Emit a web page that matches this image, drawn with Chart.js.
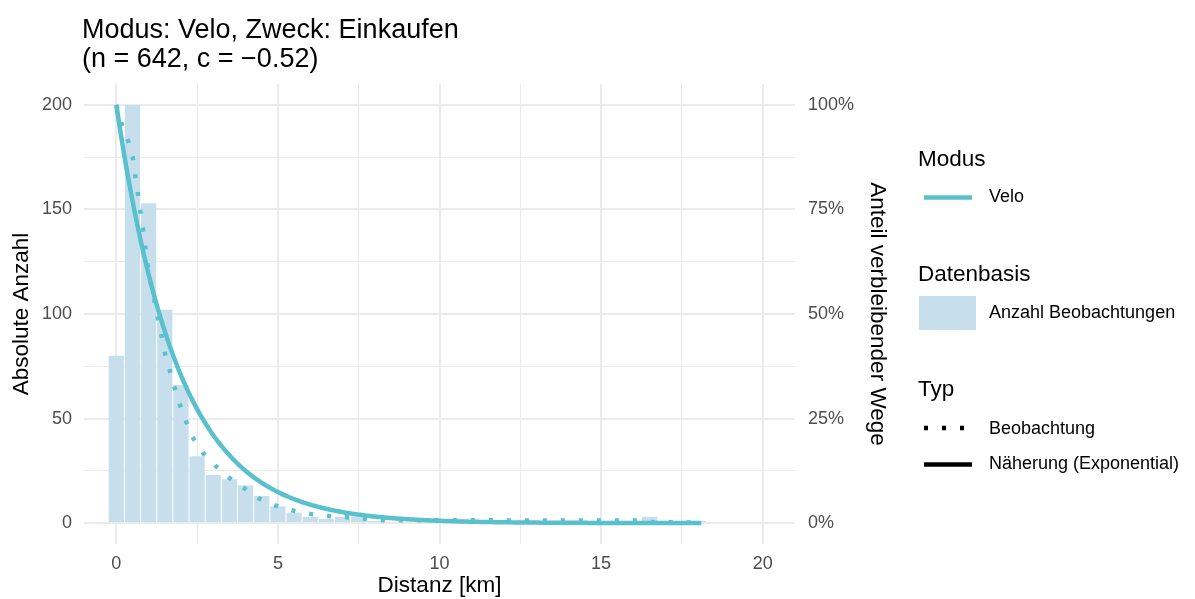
<!DOCTYPE html>
<html>
<head>
<meta charset="utf-8">
<script src="https://cdn.jsdelivr.net/npm/chart.js@4.4.1/dist/chart.umd.min.js"></script>
<style>
  html, body { margin: 0; padding: 0; background: #ffffff; }
  canvas { display: block; }
</style>
</head>
<body>
<canvas id="chart" width="1195" height="599"></canvas>
<script>
// Histogram of trip distances (bin centres in km, bin width 0.5 km)
const binCenters = [0, 0.5, 1, 1.5, 2, 2.5, 3, 3.5, 4, 4.5, 5, 5.5, 6, 6.5, 7, 7.5, 8, 8.5, 9, 9.5,
                    10, 10.5, 11, 11.5, 12, 12.5, 13, 13.5, 14, 14.5, 15, 15.5, 16, 16.5, 17, 17.5, 18];
const tripCounts = [80, 200, 153, 102, 66, 32, 23, 21, 18, 13, 8, 5, 3, 2, 3, 3, 1, 0, 0, 0,
                    0, 0, 0, 0, 0, 0, 0, 0, 0, 0, 0, 0, 0, 3, 0, 0, 1];

// Observed share of remaining trips (%) along the distance axis
const obsDistance = [0, 0.18, 0.38, 0.52, 0.59, 0.67, 0.75, 0.83, 0.9, 0.97, 1.07, 1.18, 1.29, 1.4, 1.51,
                     1.66, 1.81, 1.97, 2.17, 2.39, 2.69, 3.08, 3.5, 3.95, 4.41, 4.92, 5.46, 6.0, 6.56,
                     7.12, 7.68, 8.23, 9, 10, 12, 14, 16.4, 16.6, 18, 18.1];
const obsShare = [100, 95.1, 91.1, 87, 82.8, 78.6, 74.3, 70, 65.8, 61.6, 57.3, 53.2, 48.8, 44.7, 40.5,
                  36.3, 32.2, 28.2, 24.1, 20.2, 16.7, 13.6, 10.8, 8.4, 5.9, 4.2, 3.0, 2.2, 1.7,
                  1.4, 1.0, 0.7, 0.65, 0.65, 0.65, 0.6, 0.6, 0.2, 0.15, 0];

// Exponential approximation: share = 100% * exp(c * d)
const sampleSize = 642;
const decayRate = -0.52;
const fitMaxDistance = 18.1;

// Axis ticks
const xTicks = [0, 2.5, 5, 7.5, 10, 12.5, 15, 17.5, 20];
const countTicks = [0, 25, 50, 75, 100, 125, 150, 175, 200];
const shareTicks = [0, 25, 50, 75, 100];

const FONT = '"Liberation Sans", Arial, Helvetica, sans-serif';
const VELO = '#59C0CE';
const BAR_FILL = '#C7DFED';
const GRID = '#EBEBEB';
const TICK_TEXT = '#4D4D4D';

const fitPoints = [];
for (let d = 0; d <= fitMaxDistance + 1e-9; d += 0.05) {
  fitPoints.push({ x: d, y: 100 * Math.exp(decayRate * d) });
}

const barPoints = binCenters.map((d, i) => ({ x: d, y: tripCounts[i] }));
const obsPoints = obsDistance.map((d, i) => ({ x: d, y: obsShare[i] }));

const fmt = v => String(v).replace('-', '\u2212');

const titlePlugin = {
  id: 'plotTitle',
  afterDraw(chart) {
    const ctx = chart.ctx;
    ctx.save();
    ctx.fillStyle = '#000000';
    ctx.textAlign = 'left';
    ctx.textBaseline = 'alphabetic';
    ctx.font = `27px ${FONT}`;
    ctx.fillText('Modus: Velo, Zweck: Einkaufen', 82, 38);
    ctx.fillText(`(n = ${sampleSize}, c = ${fmt(decayRate)})`, 82, 67);
    ctx.restore();
  }
};

const keyPlugin = {
  id: 'keyPanel',
  afterDraw(chart) {
    const ctx = chart.ctx;
    ctx.save();
    ctx.textAlign = 'left';
    // group headings
    ctx.fillStyle = '#000000';
    ctx.textBaseline = 'alphabetic';
    ctx.font = `22.5px ${FONT}`;
    ctx.fillText('Modus', 918, 166);
    ctx.fillText('Datenbasis', 918, 281);
    ctx.fillText('Typ', 918, 396);

    // keys
    ctx.lineCap = 'butt';
    ctx.strokeStyle = VELO;
    ctx.lineWidth = 4.5;
    ctx.beginPath(); ctx.moveTo(924, 197.5); ctx.lineTo(972, 197.5); ctx.stroke();

    ctx.fillStyle = BAR_FILL;
    ctx.fillRect(919, 296, 57, 34);

    ctx.strokeStyle = '#000000';
    ctx.setLineDash([4, 14]);
    ctx.beginPath(); ctx.moveTo(924, 428); ctx.lineTo(972, 428); ctx.stroke();
    ctx.setLineDash([]);
    ctx.beginPath(); ctx.moveTo(924, 464.5); ctx.lineTo(972, 464.5); ctx.stroke();

    // key labels
    ctx.fillStyle = '#000000';
    ctx.textBaseline = 'middle';
    ctx.font = `18px ${FONT}`;
    ctx.fillText('Velo', 989, 197.5);
    ctx.fillText('Anzahl Beobachtungen', 989, 313);
    ctx.fillText('Beobachtung', 989, 429);
    ctx.fillText('N\u00e4herung (Exponential)', 989, 464.5);
    ctx.restore();
  }
};

const gridWidth = major => c => (c.tick && c.tick.value % major === 0) ? 2 : 1;

new Chart(document.getElementById('chart'), {
  data: {
    datasets: [
      {
        type: 'line',
        label: 'Näherung (Exponential)',
        data: fitPoints,
        yAxisID: 'y2',
        borderColor: VELO,
        borderWidth: 4.5,
        pointRadius: 0,
        tension: 0,
        order: 1
      },
      {
        type: 'line',
        label: 'Beobachtung',
        data: obsPoints,
        yAxisID: 'y2',
        borderColor: VELO,
        borderWidth: 4.5,
        borderDash: [4, 14],
        borderCapStyle: 'butt',
        pointRadius: 0,
        tension: 0,
        order: 2
      },
      {
        type: 'bar',
        label: 'Anzahl Beobachtungen',
        data: barPoints,
        yAxisID: 'y',
        backgroundColor: BAR_FILL,
        borderWidth: 0,
        barPercentage: 0.94,
        categoryPercentage: 1,
        order: 3
      }
    ]
  },
  options: {
    responsive: false,
    animation: false,
    events: [],
    layout: { padding: { left: 0, top: 84, right: 300, bottom: 0 } },
    plugins: { legend: { display: false }, tooltip: { enabled: false } },
    scales: {
      x: {
        type: 'linear',
        min: -1,
        max: 21,
        offset: false,
        afterBuildTicks: s => { s.ticks = xTicks.map(v => ({ value: v })); },
        afterFit: s => { s.height = 55; },
        grid: { color: GRID, lineWidth: gridWidth(5), drawTicks: false, offset: false },
        border: { display: false },
        ticks: {
          padding: 9, color: TICK_TEXT, font: { family: FONT, size: 18 },
          maxRotation: 0, autoSkip: false,
          callback: v => (v % 5 === 0 ? String(v) : '')
        },
        title: {
          display: true, text: 'Distanz [km]', color: '#000000',
          font: { family: FONT, size: 22.5 }, padding: { top: 0, bottom: 0 }
        }
      },
      y: {
        type: 'linear',
        position: 'left',
        min: -10,
        max: 210,
        afterBuildTicks: s => { s.ticks = countTicks.map(v => ({ value: v })); },
        afterFit: s => { s.width = 84; },
        grid: { color: GRID, lineWidth: gridWidth(50), drawTicks: false },
        border: { display: false },
        ticks: {
          padding: 12, color: TICK_TEXT, font: { family: FONT, size: 18 },
          autoSkip: false,
          callback: v => (v % 50 === 0 ? String(v) : '')
        },
        title: {
          display: true, text: 'Absolute Anzahl', color: '#000000',
          font: { family: FONT, size: 22.5 }, padding: { top: 8, bottom: 0 }
        }
      },
      y2: {
        type: 'linear',
        position: 'right',
        min: -5,
        max: 105,
        afterBuildTicks: s => { s.ticks = shareTicks.map(v => ({ value: v })); },
        afterFit: s => { s.width = 100; },
        grid: { display: false, drawTicks: false },
        border: { display: false },
        ticks: {
          padding: 13, color: TICK_TEXT, font: { family: FONT, size: 18 },
          autoSkip: false,
          callback: v => v + '%'
        },
        title: {
          display: true, text: 'Anteil verbleibender Wege', color: '#000000',
          font: { family: FONT, size: 22.5 }, padding: { top: 4, bottom: 0 }
        }
      }
    }
  },
  plugins: [titlePlugin, keyPlugin]
});
</script>
</body>
</html>
